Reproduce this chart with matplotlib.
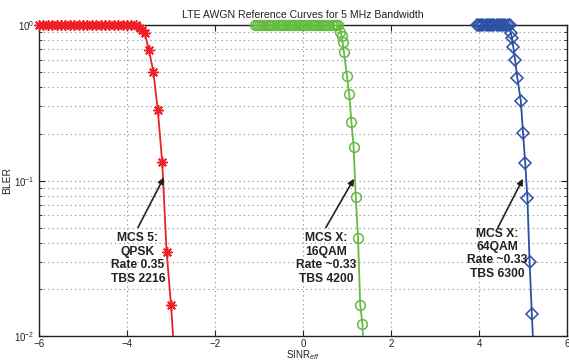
import matplotlib
matplotlib.use("Agg")
import matplotlib.pyplot as plt
import numpy as np

plt.rcParams['font.family'] = ['Liberation Sans', 'DejaVu Sans']
plt.rcParams['mathtext.fontset'] = 'custom'
plt.rcParams['mathtext.rm'] = 'Liberation Sans'
plt.rcParams['mathtext.it'] = 'Liberation Sans:italic'
plt.rcParams['mathtext.bf'] = 'Liberation Sans:bold'

# BLER vs effective SINR (dB) for three MCS settings
qpsk_sinr = [-6.0, -5.9, -5.8, -5.7, -5.6, -5.5, -5.4, -5.3, -5.2, -5.1, -5.0,
             -4.9, -4.8, -4.7, -4.6, -4.5, -4.4, -4.3, -4.2, -4.1, -4.0, -3.9,
             -3.8, -3.7, -3.65, -3.6, -3.5, -3.4, -3.3, -3.2, -3.1, -3.0, -2.9]
qpsk_bler = [1.0, 1.0, 1.0, 1.0, 1.0, 1.0, 1.0, 1.0, 1.0, 1.0, 1.0,
             1.0, 1.0, 1.0, 1.0, 1.0, 1.0, 1.0, 1.0, 1.0, 1.0, 1.0,
             1.0, 0.96, 0.93, 0.89, 0.69, 0.50, 0.285, 0.132, 0.035, 0.016, 0.006]

qam16_sinr = [-1.1, -1.05, -1.0, -0.95, -0.9, -0.85, -0.8, -0.75, -0.7, -0.65,
              -0.6, -0.55, -0.5, -0.45, -0.4, -0.35, -0.3, -0.25, -0.2, -0.15,
              -0.1, -0.05, 0.0, 0.05, 0.1, 0.15, 0.2, 0.25, 0.3, 0.35,
              0.4, 0.45, 0.5, 0.55, 0.6, 0.65, 0.7, 0.75, 0.8,
              0.85, 0.88, 0.9, 0.93, 1.0, 1.05, 1.1, 1.15, 1.2, 1.25, 1.3, 1.35, 1.4]
qam16_bler = [1.0, 1.0, 1.0, 1.0, 1.0, 1.0, 1.0, 1.0, 1.0, 1.0,
              1.0, 1.0, 1.0, 1.0, 1.0, 1.0, 1.0, 1.0, 1.0, 1.0,
              1.0, 1.0, 1.0, 1.0, 1.0, 1.0, 1.0, 1.0, 1.0, 1.0,
              1.0, 1.0, 1.0, 1.0, 1.0, 1.0, 1.0, 1.0, 1.0,
              0.90, 0.85, 0.78, 0.67, 0.47, 0.36, 0.24, 0.165, 0.078, 0.043, 0.016, 0.012, 0.006]

qam64_sinr = [3.95, 4.0, 4.05, 4.1, 4.15, 4.2, 4.25, 4.3, 4.35, 4.4, 4.45,
              4.5, 4.55, 4.6, 4.65, 4.7,
              4.72, 4.75, 4.78, 4.82, 4.87, 4.95, 5.0, 5.05, 5.1, 5.15, 5.2, 5.25]
qam64_bler = [1.0, 1.0, 1.0, 1.0, 1.0, 1.0, 1.0, 1.0, 1.0, 1.0, 1.0,
              1.0, 1.0, 1.0, 1.0, 1.0,
              0.89, 0.825, 0.72, 0.60, 0.46, 0.326, 0.203, 0.13, 0.077, 0.030, 0.014, 0.007]

labels = ["MCS 5:\nQPSK\nRate 0.35\nTBS 2216",
          "MCS X:\n16QAM\nRate ~0.33\nTBS 4200",
          "MCS X:\n64QAM\nRate ~0.33\nTBS 6300"]

x_ticks = [-6, -4, -2, 0, 2, 4, 6]
y_min, y_max = 1e-2, 1e0

fig = plt.figure(figsize=(5.69, 3.61), dpi=100)
ax = fig.add_axes([0.0685, 0.0685, 0.928, 0.862])
ax.set_yscale('log')
ax.set_xlim(-6, 6)
ax.set_ylim(y_min, y_max)

series = [
    (qpsk_sinr, qpsk_bler, '#ee2026', (8, 2, 0), 7.5),
    (qam16_sinr, qam16_bler, '#66bb44', 'o', 7.0),
    (qam64_sinr, qam64_bler, '#2b4ea6', 'D', 6.0),
]
for xs, ys, col, mk, ms in series:
    xs = np.asarray(xs)
    ys = np.asarray(ys)
    ax.plot(xs, ys, color=col, lw=1.3, zorder=3)
    keep = ys >= y_min
    ax.plot(xs[keep], ys[keep], linestyle='none', marker=mk, ms=ms,
            mec=col, mfc='none', mew=1.1, clip_on=False, zorder=4)

# Callouts
text_pos = [(-3.75, 0.0316), (0.52, 0.0316), (4.41, 0.034)]
arrow_tail = [(-3.75, 0.050), (0.52, 0.050), (4.43, 0.050)]
arrow_head = [(-3.16, 0.105), (1.16, 0.103), (5.0, 0.103)]
for lab, tp, tl, hd in zip(labels, text_pos, arrow_tail, arrow_head):
    ax.text(tp[0], tp[1], lab, ha='center', va='center', fontsize=8.7,
            fontweight='bold', color='#222222', linespacing=1.15, zorder=5)
    ax.annotate('', xy=hd, xytext=tl,
                arrowprops=dict(arrowstyle='-|>', color='#222222', lw=1.2,
                                mutation_scale=9, shrinkA=0, shrinkB=0),
                zorder=5)

ax.set_xticks(x_ticks)
ax.grid(True, which='major', axis='both', linestyle=(0, (1, 3)),
        color='#888888', lw=0.8)
ax.grid(True, which='minor', axis='y', linestyle=(0, (1, 3)),
        color='#888888', lw=0.8)
ax.tick_params(which='both', direction='in', top=True, right=True,
               labelsize=7, colors='#222222')
ax.tick_params(axis='x', which='major', pad=1.8)
ax.tick_params(which='major', length=4, width=0.8)
ax.tick_params(which='minor', length=2.5, width=0.6)
for s in ax.spines.values():
    s.set_linewidth(1.0)
    s.set_color('#222222')

ax.set_title('LTE AWGN Reference Curves for 5 MHz Bandwidth', fontsize=7.6,
             color='#222222', pad=5)
ax.set_xlabel(r'SINR$_{eff}$', fontsize=7.0, color='#222222')
ax.set_ylabel('BLER', fontsize=7.5, color='#222222')
ax.xaxis.set_label_coords(0.5, -0.037)
ax.yaxis.set_label_coords(-0.051, 0.5)

fig.savefig('out.png', dpi=100)
